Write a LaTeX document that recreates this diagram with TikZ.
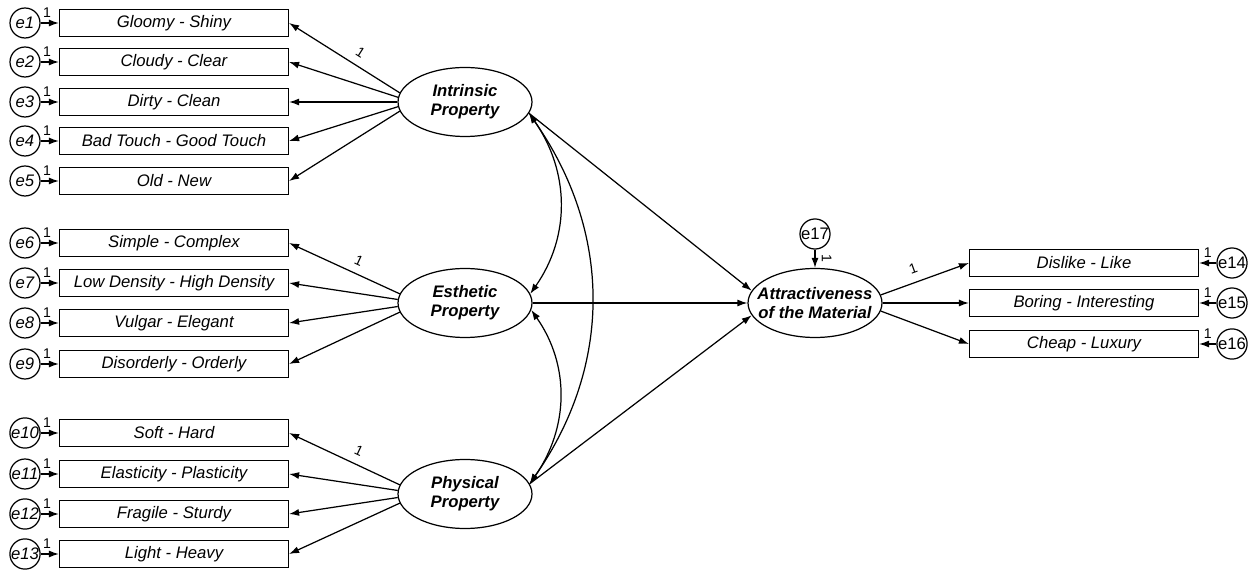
\documentclass[tikz,border=0pt]{standalone}
\usepackage{fontspec}
\setmainfont{Liberation Sans}
\usetikzlibrary{shapes.geometric,arrows.meta}

\newcommand\semsize{\fontsize{9.5}{10.8}\selectfont}

\tikzset{
  obs/.style={draw, rectangle, minimum width=4.58cm, minimum height=0.54cm, inner sep=0pt, font=\semsize\itshape},
  lat/.style={draw, ellipse, minimum width=2.68cm, minimum height=1.38cm, inner sep=0pt},
  lattxt/.style={align=center, inner sep=0pt, font=\semsize\bfseries\itshape},
  err/.style={draw, circle, minimum size=0.6cm, inner sep=0pt, font=\semsize\itshape},
  errr/.style={draw, circle, minimum size=0.6cm, inner sep=0pt, font=\semsize},
  arr/.style={-{Latex[length=2mm,width=1.4mm]}},
  cov/.style={{Latex[length=2mm,width=1.4mm]}-{Latex[length=2mm,width=1.4mm]}},
  one/.style={font=\fontsize{8}{8}\selectfont, inner sep=1.5pt}
}

\begin{document}
\begin{tikzpicture}[x=0.02cm, y=0.02cm, line width=0.7pt]
  \useasboundingbox (0,0) rectangle (1250,571);

  % latent variables
  \node[lat, label={[lattxt]center:Intrinsic\\Property}] (int) at (465,469) {};
  \node[lat, label={[lattxt]center:Esthetic\\Property}] (est) at (465,268) {};
  \node[lat, label={[lattxt]center:Physical\\Property}] (phy) at (465,77) {};
  \node[lat, label={[lattxt]center:Attractiveness\\of the Material}] (att) at (815,268) {};

  % intrinsic indicators
  \node[obs] (o1) at (174,548) {Gloomy - Shiny};
  \node[obs] (o2) at (174,509) {Cloudy - Clear};
  \node[obs] (o3) at (174,469) {Dirty - Clean};
  \node[obs] (o4) at (174,430) {Bad Touch - Good Touch};
  \node[obs] (o5) at (174,390) {Old - New};
  \node[err] (e1) at (25,548) {e1};
  \node[err] (e2) at (25,509) {e2};
  \node[err] (e3) at (25,469) {e3};
  \node[err] (e4) at (25,430) {e4};
  \node[err] (e5) at (25,390) {e5};

  % esthetic indicators
  \node[obs] (o6) at (174,328) {Simple - Complex};
  \node[obs] (o7) at (174,288) {Low Density - High Density};
  \node[obs] (o8) at (174,248) {Vulgar - Elegant};
  \node[obs] (o9) at (174,207) {Disorderly - Orderly};
  \node[err] (e6) at (25,328) {e6};
  \node[err] (e7) at (25,288) {e7};
  \node[err] (e8) at (25,248) {e8};
  \node[err] (e9) at (25,207) {e9};

  % physical indicators
  \node[obs] (o10) at (174,138) {Soft - Hard};
  \node[obs] (o11) at (174,97) {Elasticity - Plasticity};
  \node[obs] (o12) at (174,57) {Fragile - Sturdy};
  \node[obs] (o13) at (174,17) {Light - Heavy};
  \node[err] (e10) at (25,138) {e10};
  \node[err] (e11) at (25,97) {e11};
  \node[err] (e12) at (25,57) {e12};
  \node[err] (e13) at (25,17) {e13};

  % outcome indicators
  \node[obs] (o14) at (1084,308) {Dislike - Like};
  \node[obs] (o15) at (1084,268) {Boring - Interesting};
  \node[obs] (o16) at (1084,227) {Cheap - Luxury};
  \node[errr] (e14) at (1232,308) {e14};
  \node[errr] (e15) at (1232,268) {e15};
  \node[errr] (e16) at (1232,227) {e16};
  \node[errr] (e17) at (815,337) {e17};

  % error arrows
  \draw[arr] (e1) -- (o1) node[one, above=1pt, pos=0.35] {1};
  \draw[arr] (e2) -- (o2) node[one, above=1pt, pos=0.35] {1};
  \draw[arr] (e3) -- (o3) node[one, above=1pt, pos=0.35] {1};
  \draw[arr] (e4) -- (o4) node[one, above=1pt, pos=0.35] {1};
  \draw[arr] (e5) -- (o5) node[one, above=1pt, pos=0.35] {1};
  \draw[arr] (e6) -- (o6) node[one, above=1pt, pos=0.35] {1};
  \draw[arr] (e7) -- (o7) node[one, above=1pt, pos=0.35] {1};
  \draw[arr] (e8) -- (o8) node[one, above=1pt, pos=0.35] {1};
  \draw[arr] (e9) -- (o9) node[one, above=1pt, pos=0.35] {1};
  \draw[arr] (e10) -- (o10) node[one, above=1pt, pos=0.35] {1};
  \draw[arr] (e11) -- (o11) node[one, above=1pt, pos=0.35] {1};
  \draw[arr] (e12) -- (o12) node[one, above=1pt, pos=0.35] {1};
  \draw[arr] (e13) -- (o13) node[one, above=1pt, pos=0.35] {1};
  \draw[arr] (e14) -- (o14) node[one, above=1pt, pos=0.5] {1};
  \draw[arr] (e15) -- (o15) node[one, above=1pt, pos=0.5] {1};
  \draw[arr] (e16) -- (o16) node[one, above=1pt, pos=0.5] {1};
  \draw[arr] (e17) -- (att) node[one, rotate=-90, anchor=south, pos=0.5, yshift=2pt] {1};

  % loadings
  \draw[arr] (int.172) -- (o1.east) node[one, sloped, above=3pt, pos=0.42] {1};
  \draw[arr] (int.176) -- (o2.east);
  \draw[arr] (int.180) -- (o3.east);
  \draw[arr] (int.184) -- (o4.east);
  \draw[arr] (int.188) -- (o5.east);
  \draw[arr] (est.172) -- (o6.east) node[one, sloped, above=3pt, pos=0.42] {1};
  \draw[arr] (est.177) -- (o7.east);
  \draw[arr] (est.183) -- (o8.east);
  \draw[arr] (est.188) -- (o9.east);
  \draw[arr] (phy.172) -- (o10.east) node[one, sloped, above=3pt, pos=0.42] {1};
  \draw[arr] (phy.177) -- (o11.east);
  \draw[arr] (phy.183) -- (o12.east);
  \draw[arr] (phy.188) -- (o13.east);
  \draw[arr] (att.7) -- (o14.west) node[one, sloped, above=3pt, pos=0.42] {1};
  \draw[arr] (att.east) -- (o15.west);
  \draw[arr] (att.-7) -- (o16.west);

  % structural paths
  \draw[arr] (int.-10) -- (att.169);
  \draw[arr] (est.east) -- (att.west);
  \draw[arr] (phy.9) -- (att.-169);

  % covariances
  \draw[cov] (int.-10) to[out=-55, in=55] (est.8);
  \draw[cov] (int.-10) to[out=-55, in=55] (phy.9);
  \draw[cov] (est.-6) to[out=-55, in=55] (phy.9);
\end{tikzpicture}
\end{document}
